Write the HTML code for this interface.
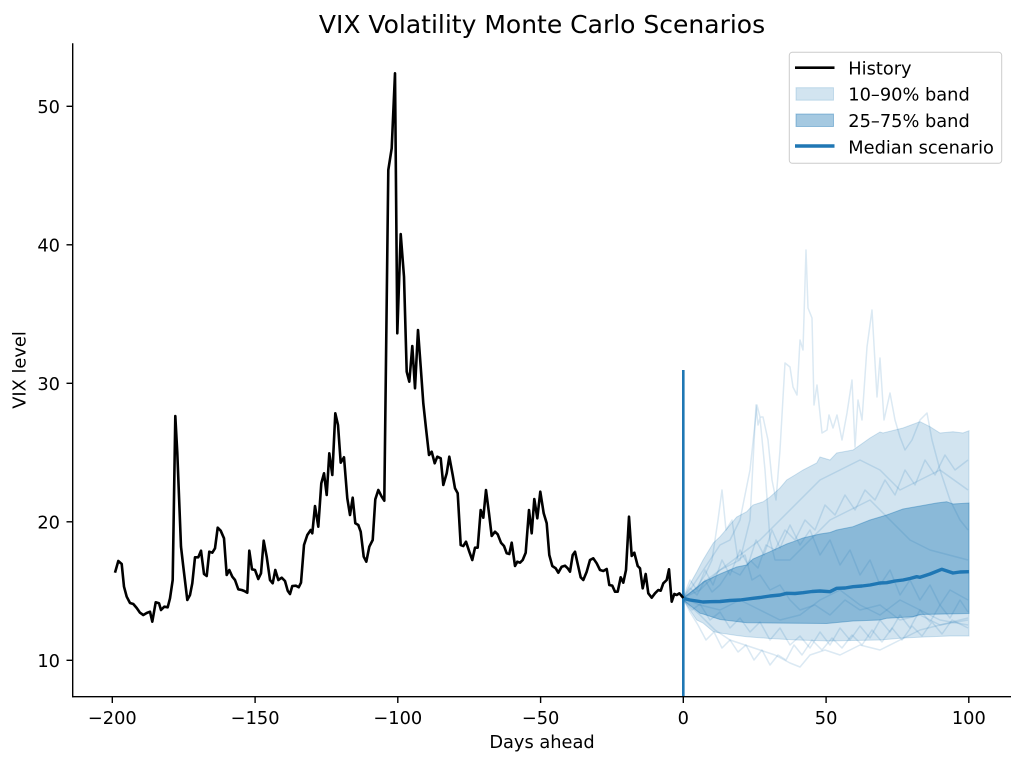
<!DOCTYPE html>
<html>
<head>
<meta charset="utf-8">
<style>
  html, body { margin: 0; padding: 0; background: #ffffff; }
  svg { display: block; }
  text { font-family: "DejaVu Sans", "Liberation Sans", sans-serif; fill: #000000; }
</style>
</head>
<body>
<svg width="1024" height="767" viewBox="0 0 1024 767" xmlns="http://www.w3.org/2000/svg">
  <rect x="0" y="0" width="1024" height="767" fill="#ffffff"/>

  <!-- Title -->
  <text x="542" y="33" font-size="25" text-anchor="middle" fill="#000">VIX Volatility Monte Carlo Scenarios</text>

  <!-- 10-90% band -->
  <path d="M683.3,598 L690,584 L696.7,572 L703,560 L713.3,543 L720,536.7 L730,525 L736.7,517 L746.7,511.7 L753,505 L763.3,501.7 L770,497 L780,488 L786.7,480 L795,475 L803,470 L816.7,463 L820,457 L830,460 L836.7,453 L853,450 L870,438 L880,432 L883,433 L903,428 L920,421.7 L930,426.7 L940,433 L953,431.7 L963,433 L969,430.7
           L969,636 L950,636 L930,636.7 L903,638 L880,640 L853,640.5 L830,641 L796.7,640 L770,638.5 L746.7,636.7 L736.7,635.5 L720,633 L713.3,631.7 L703,623 L696.7,620 L683.3,600 Z"
        fill="#1f77b4" fill-opacity="0.2" stroke="#1f77b4" stroke-opacity="0.2" stroke-width="1"/>

  <!-- 25-75% band -->
  <path d="M683.3,598 L700,585 L703,582 L720,574 L736.7,567 L746.7,565 L753,559 L770,551.7 L786.7,544 L793.3,541.7 L803,538 L820,534 L830,532.5 L836.7,530 L853,526.7 L870,520 L886.7,515 L903,509 L920,506 L936.7,503 L946.7,501.7 L953,504 L969,503
           L969,613.5 L920,614.5 L913,616.7 L886.7,618.3 L880,620 L853,621 L826.7,623.5 L796.7,623.3 L770,623 L746.7,622.7 L736.7,621.5 L720,619.5 L703,614 L700,613.3 L683.3,600 Z"
        fill="#1f77b4" fill-opacity="0.4" stroke="#1f77b4" stroke-opacity="0.4" stroke-width="1"/>

  <!-- sample paths -->
  <g fill="none" stroke="#1f77b4" stroke-opacity="0.16" stroke-width="1.5" stroke-linejoin="round">
    <polyline points="683,598 690,590 700,575 710,560 720,545 730,540 740,520 750,470 757,405 760,417 763,417 768,440 772,480 776,500 780,450 785,363 790,367 793,387 797,395 800,340 803,350 806,250 808,308 812,318 814,405 817,385 822,433 827,430 829,415 833,428 837,415 842,440 847,413 852,380 855,447 858,400 862,420 867,347 872,310 877,397 880,358 884,420 890,393 895,420 900,437 905,450 912,440 920,420 927,413 932,440 940,470 950,500 960,520 968,530"/>
    <polyline points="683,598 700,585 720,570 740,560 750,520 756,405 758,425 760,418 765,470 770,540 775,560 790,560 810,540 830,520 850,510 870,500 890,520 910,540 930,550 968,560"/>
    <polyline points="683,600 700,615 715,630 730,640 745,645 760,650 775,655 790,663 800,667 810,655 825,650 840,655 860,645 880,650 900,640 920,630 940,625 968,620"/>
    <polyline points="683,598 700,590 720,570 740,555 760,540 780,520 800,500 820,480 840,470 860,460 880,470 900,490 920,480 940,470 968,490"/>
    <polyline points="683,598 700,605 720,610 740,600 760,610 780,620 800,615 820,600 840,590 860,605 880,615 900,600 920,610 940,620 968,625"/>
    <polyline points="683,598 695,590 705,575 712,560 718,520 722,490 726,530 732,520 738,560 745,555 752,580 760,575 770,590 780,585 790,600 800,610 815,605 830,615 845,600 860,610 880,605 900,620 920,615 940,625 968,618"/>
    <polyline points="683,598 690,588 697,595 705,580 712,592 720,585 730,570 740,575 750,560 758,568 766,545 775,550 785,530 795,540 805,520 815,530 825,505 835,515 845,495 855,510 865,490 875,500 885,480 895,495 905,470 915,485 925,460 935,475 945,455 955,470 968,460"/>
    <polyline points="683,598 692,610 700,604 710,620 720,612 730,628 740,618 750,632 760,622 770,640 780,628 790,645 800,636 810,648 820,632 830,645 840,628 850,640 860,626 870,638 880,620 890,632 900,615 910,628 920,610 930,622 940,605 950,618 960,600 968,612"/>
    <polyline points="683,598 690,580 697,590 705,570 713,585 722,560 730,575 740,550 748,565 756,540 764,555 772,530 780,548 790,525 800,545 810,530 820,555 830,540 840,565 850,550 860,575 870,560 880,585 890,570 900,595 910,580 920,600 930,585 940,605 950,590 968,600"/>
    <polyline points="683,598 690,612 698,625 706,640 714,632 722,648 730,640 738,652 746,645 754,660 762,650 770,665 778,655 786,660 794,645 802,655 812,640 822,650 832,638 842,648 852,635 862,645 872,630 882,642 892,628 902,640 912,626 922,636 932,622 942,634 952,620 968,628"/>
  </g>

  <!-- Median -->
  <polyline points="683.3,598.3 690,600 696.7,601 703,602 710,601.7 720,601.5 730,600.5 740,600 753,598.3 760,597.5 770,596 780,595 786.7,593.3 795,593.5 803,592.7 812,591.5 820,591 830,591.7 836.7,588.3 845,588 853,586.7 862,586 870,585 880,583 886.7,582.7 895,581 903,580 910,578.5 916.7,576.7 920,577.3 930,574 941.7,569.3 947,571 953,573 960,572 969,571.7"
            fill="none" stroke="#1f77b4" stroke-width="3.4" stroke-linejoin="round"/>

  <!-- vertical line at 0 -->
  <line x1="683.3" y1="370" x2="683.3" y2="696.7" stroke="#1f77b4" stroke-width="2.6"/>

  <!-- History -->
  <polyline fill="none" stroke="#000" stroke-width="2.6" stroke-linejoin="round"
    points="115,572.7 118.3,561 121.7,564 124,586.7 126.7,596.7 130,603 133.3,604 136.7,608 140,612.7 143.3,615 146.7,613 150,611.7 152.3,621.7 155.7,602.3 159,603.3 161,610 164.3,606.7 167.7,607.3 170,598.3 172.7,580 175.3,416 177.3,453 181,546.7 183.3,566.7 187.3,600 190,595 192.3,583.3 195,557.3 198.3,557.3 201,550.7 204,574 206.7,576 209.3,551.7 212.3,552.7 215,548.3 217.7,527.7 220.7,530.7 224,538.3 226.7,575 229.3,570 232.3,576.7 235,580 238.3,589.3 241.7,590 244.3,591 247.3,592.7 249.3,550.7 252,569.3 255,570 258.3,579 261,573.3 263.7,540.7 266.7,556.7 270,580 272.7,583.3 275.3,570 278.3,580 281.7,577.7 285,581 287.7,590.7 290,594 292.3,586 296,585.7 298.7,587.3 301,582.7 304,545 307.3,535 310.7,530 312.3,533.3 315,506 318.3,526.7 321.3,483.3 324,473.3 326.7,495 329.3,453.3 332.3,475 335.3,413.3 338,425 340.7,462.7 344,457.3 347.3,498.3 350,515 352.7,497.7 355.3,523.3 358.3,525 360.7,531.7 363.7,556.7 366.3,561.7 369.3,546.7 372.7,540 375.3,499.3 378.3,490 381.7,496.7 384.3,500.7 388.3,170 391.7,148.3 395,73.3 397.3,333.3 400.7,234 404,276.7 406.7,371.7 409.3,381.7 412.3,346 415,388.3 418,330 420.7,366.7 423.3,403.3 426,428.3 429,455 431.7,451.7 434.7,463.3 437.3,456.7 440.7,458.3 443.3,485 446.7,473.3 449.3,456.7 452.7,475 455,488.3 457.7,493.3 460.7,545 463.3,546 466,541.7 469.3,551.7 472.3,560 475,547.7 477.7,547.7 480.7,510 483.3,517.7 486,490 489,513.3 491.7,536 495,531.7 497.7,534.3 501,542.7 504,546 506.7,553.3 509.3,554 511.7,542.7 515,566 517.3,561.7 520,562.7 522.7,560 525.7,552.7 529,510 531.7,533.3 534.3,499 537.3,518.3 540.3,491.7 543.7,513.3 546.7,523.3 549.3,555 552.3,566 555.7,568.3 558.3,572.7 561.7,566.7 565,565.7 567.7,568.3 570,571.7 572.7,555 575,551.7 577.7,564 580.7,577.3 583.3,580 586.7,571.7 590,560 593.3,558.3 596.7,563.3 600,570 603.3,571 606.7,569 609.3,585 612.3,585.7 615,591.7 617.7,591.7 620.7,577.3 623.3,582.7 626,570 629,516.7 631.7,556 634.3,552.7 637.7,566 640,568.3 642.7,588.3 645.7,574 648.3,593.3 651.7,597.7 655,593.3 658.3,590 660.7,590.7 663.3,583.3 666.7,580 669,569.3 671.7,601.7 674.3,594 676.7,595 679.3,593.3 681.7,596 683.3,598"/>

  <!-- Axes spines -->
  <line x1="72.7" y1="43.3" x2="72.7" y2="697.3" stroke="#000" stroke-width="1.4"/>
  <line x1="72" y1="696.7" x2="1011" y2="696.7" stroke="#000" stroke-width="1.4"/>

  <!-- Y ticks -->
  <g stroke="#000" stroke-width="1.4">
    <line x1="66.5" y1="660.3" x2="72.7" y2="660.3"/>
    <line x1="66.5" y1="521.8" x2="72.7" y2="521.8"/>
    <line x1="66.5" y1="383.3" x2="72.7" y2="383.3"/>
    <line x1="66.5" y1="244.8" x2="72.7" y2="244.8"/>
    <line x1="66.5" y1="106.3" x2="72.7" y2="106.3"/>
  </g>
  <g font-size="17.8" text-anchor="end">
    <text x="60" y="666.8">10</text>
    <text x="60" y="528.3">20</text>
    <text x="60" y="389.8">30</text>
    <text x="60" y="251.3">40</text>
    <text x="60" y="112.8">50</text>
  </g>

  <!-- X ticks -->
  <g stroke="#000" stroke-width="1.4">
    <line x1="112.3" y1="696.7" x2="112.3" y2="703"/>
    <line x1="255.1" y1="696.7" x2="255.1" y2="703"/>
    <line x1="397.8" y1="696.7" x2="397.8" y2="703"/>
    <line x1="540.6" y1="696.7" x2="540.6" y2="703"/>
    <line x1="683.3" y1="696.7" x2="683.3" y2="703"/>
    <line x1="826.1" y1="696.7" x2="826.1" y2="703"/>
    <line x1="968.8" y1="696.7" x2="968.8" y2="703"/>
  </g>
  <g font-size="17.8" text-anchor="middle">
    <text x="112.3" y="724">−200</text>
    <text x="255.1" y="724">−150</text>
    <text x="397.8" y="724">−100</text>
    <text x="540.6" y="724">−50</text>
    <text x="683.3" y="724">0</text>
    <text x="826.1" y="724">50</text>
    <text x="968.8" y="724">100</text>
  </g>

  <!-- Axis labels -->
  <text x="542" y="748" font-size="17.8" text-anchor="middle">Days ahead</text>
  <text transform="translate(25.5,370) rotate(-90)" font-size="17.8" text-anchor="middle">VIX level</text>

  <!-- Legend -->
  <rect x="789.3" y="52.3" width="212.4" height="111" rx="3" ry="3" fill="#ffffff" fill-opacity="0.8" stroke="#cccccc" stroke-width="1"/>
  <line x1="795" y1="67.7" x2="834.5" y2="67.7" stroke="#000" stroke-width="2.6"/>
  <rect x="796" y="87.7" width="37.5" height="12.5" fill="#1f77b4" fill-opacity="0.2" stroke="#1f77b4" stroke-opacity="0.2" stroke-width="1"/>
  <rect x="796" y="114" width="37.5" height="12.5" fill="#1f77b4" fill-opacity="0.4" stroke="#1f77b4" stroke-opacity="0.4" stroke-width="1"/>
  <line x1="795" y1="146" x2="834.5" y2="146" stroke="#1f77b4" stroke-width="3.4"/>
  <g font-size="17.8" fill="#000">
    <text x="848.3" y="74.3">History</text>
    <text x="848.3" y="100.6">10–90% band</text>
    <text x="848.3" y="127">25–75% band</text>
    <text x="848.3" y="153.3">Median scenario</text>
  </g>
</svg>
</body>
</html>
